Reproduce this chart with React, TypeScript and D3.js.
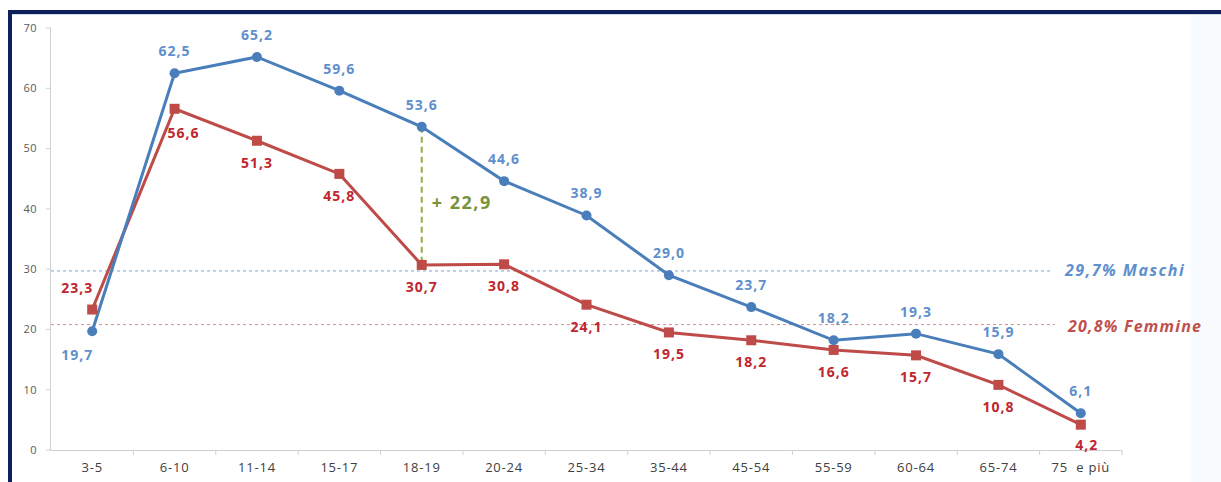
import React from "react";
import * as d3 from "d3";

const categories = ["3-5", "6-10", "11-14", "15-17", "18-19", "20-24", "25-34", "35-44", "45-54", "55-59", "60-64", "65-74", "75\u00a0\u00a0e più"];
const maschi = [19.7, 62.5, 65.2, 59.6, 53.6, 44.6, 38.9, 29.0, 23.7, 18.2, 19.3, 15.9, 6.1];
const femmine = [23.3, 56.6, 51.3, 45.8, 30.7, 30.8, 24.1, 19.5, 18.2, 16.6, 15.7, 10.8, 4.2];
const yTicks = [0, 10, 20, 30, 40, 50, 60, 70];
const avgMaschi = 29.7;
const avgFemmine = 20.8;
const gapCategory = "18-19";
const gapLabel = "+ 22,9";

const W = 1221, H = 482;
const BLUE = "#4a7ebb";
const BLUE_TXT = "#5f8fcc";
const RED = "#be4b48";
const RED_TXT = "#c0262d";
const GREEN = "#8db33a";
const GREEN_TXT = "#77933c";
const FONT = "'Open Sans', 'Liberation Sans', sans-serif";

const fmt = (v: number) => v.toFixed(1).replace(".", ",");

export default function App() {
  const x = d3.scaleBand<string>().domain(categories).range([51, 1122]);
  const y = d3.scaleLinear().domain([0, 70]).range([450, 28]);
  const cx = (c: string) => (x(c) as number) + x.bandwidth() / 2;
  const line = d3.line<number>().x((_, i) => cx(categories[i])).y((d) => y(d));

  const blueLabelPos = (i: number) => {
    if (i === 0) return { dx: -15, dy: 24 };
    return { dx: 0, dy: -22 };
  };
  const redLabelPos = (i: number) => {
    if (i === 0) return { dx: -15, dy: -21 };
    if (i === 1) return { dx: 9, dy: 24 };
    if (i === categories.length - 1) return { dx: 6, dy: 20 };
    return { dx: 0, dy: 22 };
  };

  const gi = categories.indexOf(gapCategory);

  return (
    <div style={{ position: "absolute", left: 0, top: 0 }}>
      <svg width={W} height={H} style={{ display: "block", fontFamily: FONT }}>
        <rect x={0} y={0} width={W} height={H} fill="#ffffff" />
        <rect x={1190} y={14} width={31} height={H} fill="#f9fcfe" />
        <rect x={10} y={12} width={W + 20} height={H + 20} fill="none" stroke="#0f1f5c" strokeWidth={4} />
        <line x1={12} x2={W} y1={14.5} y2={14.5} stroke="#c9dcef" strokeWidth={1} />

        {/* y axis */}
        <line x1={50.5} x2={50.5} y1={28} y2={450} stroke="#d0d0d0" />
        {yTicks.map((t) => (
          <g key={t}>
            <line x1={46} x2={51} y1={y(t)} y2={y(t)} stroke="#d0d0d0" />
            <text x={37} y={y(t)} dy="0.35em" textAnchor="end" fontSize={11} letterSpacing={0.5} fill="#595959">{t}</text>
          </g>
        ))}
        {/* x axis */}
        <line x1={50} x2={1122} y1={450.5} y2={450.5} stroke="#d0d0d0" />
        {categories.map((c) => (
          <g key={c}>
            <line x1={(x(c) as number) + x.bandwidth()} x2={(x(c) as number) + x.bandwidth()} y1={450} y2={455} stroke="#d0d0d0" />
            <text x={cx(c)} y={472} textAnchor="middle" fontSize={13} letterSpacing={0.8} fill="#404040">{c}</text>
          </g>
        ))}

        {/* average lines */}
        <line x1={51} x2={1052} y1={y(avgMaschi)} y2={y(avgMaschi)} stroke="#7aa3d8" strokeWidth={1} strokeDasharray="3,3" />
        <text x={1065} y={y(avgMaschi) - 1} dy="0.35em" fontSize={16} letterSpacing={1.5} fontWeight="bold" fontStyle="italic" fill={BLUE_TXT}>{`${fmt(avgMaschi)}% Maschi`}</text>
        <line x1={51} x2={1055} y1={y(avgFemmine)} y2={y(avgFemmine)} stroke="#d68a88" strokeWidth={1} strokeDasharray="3,3" />
        <text x={1068} y={y(avgFemmine) + 2} dy="0.35em" fontSize={16} letterSpacing={1.2} fontWeight="bold" fontStyle="italic" fill="#c0504d">{`${fmt(avgFemmine)}% Femmine`}</text>

        {/* gap */}
        <line x1={cx(gapCategory)} x2={cx(gapCategory)} y1={y(maschi[gi])} y2={y(femmine[gi])} stroke={GREEN} strokeWidth={2} strokeDasharray="6,4" />
        <text x={cx(gapCategory) + 10} y={y(41)} dy="0.35em" fontSize={18} letterSpacing={1.5} fontWeight="bold" fill={GREEN_TXT}>{gapLabel}</text>

        {/* lines */}
        <path d={line(femmine) as string} fill="none" stroke={RED} strokeWidth={3} />
        <path d={line(maschi) as string} fill="none" stroke={BLUE} strokeWidth={3} />
        {femmine.map((v, i) => (
          <rect key={"f" + i} x={cx(categories[i]) - 5} y={y(v) - 5} width={10} height={10} fill={RED} />
        ))}
        {maschi.map((v, i) => (
          <circle key={"m" + i} cx={cx(categories[i])} cy={y(v)} r={5} fill={BLUE} />
        ))}

        {/* labels */}
        {maschi.map((v, i) => {
          const p = blueLabelPos(i);
          return (
            <text key={"ml" + i} x={cx(categories[i]) + p.dx} y={y(v) + p.dy} dy="0.35em" textAnchor="middle" fontSize={14} letterSpacing={1} fontWeight="bold" fill={BLUE_TXT}>{fmt(v)}</text>
          );
        })}
        {femmine.map((v, i) => {
          const p = redLabelPos(i);
          return (
            <text key={"fl" + i} x={cx(categories[i]) + p.dx} y={y(v) + p.dy} dy="0.35em" textAnchor="middle" fontSize={14} letterSpacing={1} fontWeight="bold" fill={RED_TXT}>{fmt(v)}</text>
          );
        })}
      </svg>
    </div>
  );
}
